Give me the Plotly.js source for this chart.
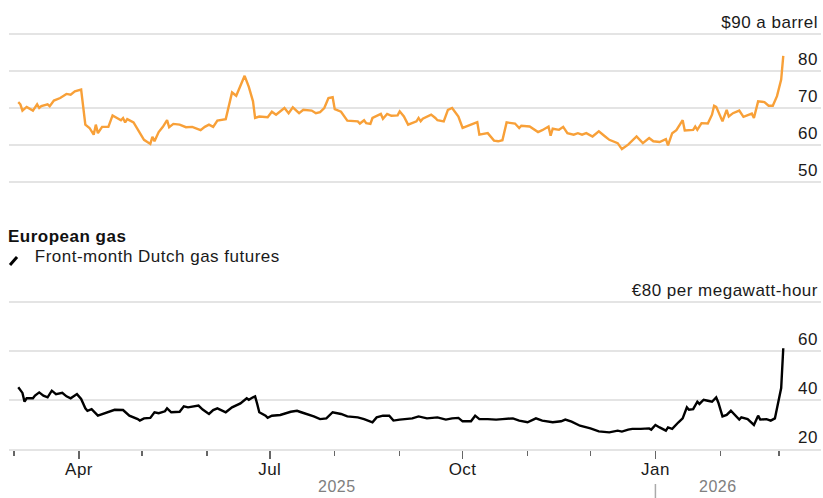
<!DOCTYPE html>
<html>
<head>
<meta charset="utf-8">
<script src="https://cdn.plot.ly/plotly-3.0.1.min.js"></script>
<style>
  html, body { margin: 0; padding: 0; background: #fff; }
  #chart { width: 823px; height: 498px; }
  #chart text { letter-spacing: 0.5px; }
</style>
</head>
<body>
<div id="chart"></div>
<script>
// Brent crude, $ a barrel
const oilDates = [
  "2025-03-03","2025-03-04","2025-03-05","2025-03-07","2025-03-10","2025-03-12","2025-03-13","2025-03-14",
  "2025-03-17","2025-03-18","2025-03-20","2025-03-23","2025-03-26","2025-03-28","2025-03-30","2025-04-02",
  "2025-04-04","2025-04-06","2025-04-08","2025-04-09","2025-04-10","2025-04-12","2025-04-15","2025-04-17",
  "2025-04-21","2025-04-22","2025-04-23","2025-04-24","2025-04-27","2025-04-29","2025-05-02","2025-05-05",
  "2025-05-06","2025-05-07","2025-05-09","2025-05-11","2025-05-13","2025-05-14","2025-05-16","2025-05-19",
  "2025-05-22","2025-05-25","2025-05-29","2025-05-31","2025-06-02","2025-06-04","2025-06-06","2025-06-10",
  "2025-06-11","2025-06-13","2025-06-15","2025-06-17","2025-06-19","2025-06-21","2025-06-23","2025-06-24",
  "2025-06-26","2025-06-30","2025-07-02","2025-07-04","2025-07-08","2025-07-10","2025-07-12","2025-07-15",
  "2025-07-17","2025-07-21","2025-07-23","2025-07-25","2025-07-27","2025-07-29","2025-07-31","2025-08-01",
  "2025-08-04","2025-08-07","2025-08-12","2025-08-13","2025-08-15","2025-08-16","2025-08-18","2025-08-19",
  "2025-08-23","2025-08-24","2025-08-26","2025-08-28","2025-08-31","2025-09-01","2025-09-03","2025-09-05",
  "2025-09-09","2025-09-10","2025-09-11","2025-09-12","2025-09-16","2025-09-18","2025-09-19","2025-09-22",
  "2025-09-24","2025-09-26","2025-09-29","2025-10-01","2025-10-05","2025-10-08","2025-10-09","2025-10-13",
  "2025-10-16","2025-10-18","2025-10-20","2025-10-22","2025-10-26","2025-10-28","2025-10-29","2025-11-02",
  "2025-11-06","2025-11-08","2025-11-11","2025-11-12","2025-11-13","2025-11-16","2025-11-18","2025-11-20",
  "2025-11-23","2025-11-25","2025-11-27","2025-11-29","2025-12-02","2025-12-05","2025-12-08","2025-12-10",
  "2025-12-14","2025-12-16","2025-12-19","2025-12-23","2025-12-26","2025-12-29","2025-12-31","2026-01-03",
  "2026-01-06","2026-01-07","2026-01-09","2026-01-11","2026-01-14","2026-01-15","2026-01-19","2026-01-20",
  "2026-01-21","2026-01-23","2026-01-26","2026-01-28","2026-01-29","2026-01-30","2026-02-02","2026-02-04",
  "2026-02-05","2026-02-07","2026-02-10","2026-02-12","2026-02-16","2026-02-17","2026-02-19","2026-02-22",
  "2026-02-24","2026-02-26","2026-02-28","2026-03-02","2026-03-03"
];
const oilPrice = [
  71.6,71.0,69.3,70.3,69.3,71.0,70.0,70.5,
  71.0,70.5,72.0,72.7,73.8,73.6,74.5,75.0,
  65.5,64.6,62.8,65.5,63.2,64.9,64.9,68.0,
  66.7,67.3,66.1,67.0,66.1,64.1,61.4,60.3,
  62.2,61.0,63.5,64.9,66.7,64.8,65.7,65.5,
  64.8,64.9,64.0,64.9,65.5,64.9,66.6,67.0,
  69.6,74.2,73.3,76.0,78.7,75.7,71.8,67.3,
  67.7,67.5,69.0,68.2,70.0,68.6,70.2,68.6,
  69.5,69.3,68.6,68.9,70.0,72.7,72.9,69.7,
  69.0,66.6,66.4,65.8,66.7,65.9,65.7,67.3,
  68.4,67.1,68.4,67.9,68.0,69.1,67.7,65.5,
  66.4,67.3,66.4,67.1,68.2,67.3,66.7,66.4,
  69.5,70.0,67.7,64.6,65.5,66.2,62.8,63.2,
  61.2,61.0,61.3,66.1,65.8,64.6,65.2,65.0,
  63.5,64.0,65.0,62.5,64.4,64.1,64.9,63.2,
  62.8,63.2,62.8,63.2,62.3,63.7,62.3,61.4,
  60.5,58.9,60.1,62.3,60.5,61.9,61.0,60.8,
  61.6,59.9,63.2,64.0,66.7,63.9,64.1,65.0,
  64.1,65.9,65.8,68.2,70.6,70.3,66.4,69.5,
  67.7,68.6,69.3,67.6,68.5,67.3,71.8,71.6,
  70.6,70.6,73.2,77.7,84.1
];

// Front-month Dutch gas futures, € per megawatt-hour
const gasDates = [
  "2025-03-03","2025-03-05","2025-03-06","2025-03-07","2025-03-10","2025-03-11","2025-03-13","2025-03-15",
  "2025-03-17","2025-03-19","2025-03-20","2025-03-21","2025-03-24","2025-03-26","2025-03-28","2025-03-31",
  "2025-04-02","2025-04-04","2025-04-05","2025-04-07","2025-04-10","2025-04-11","2025-04-14","2025-04-18",
  "2025-04-22","2025-04-25","2025-04-29","2025-04-30","2025-05-02","2025-05-05","2025-05-07","2025-05-09",
  "2025-05-12","2025-05-13","2025-05-15","2025-05-19","2025-05-21","2025-05-23","2025-05-28","2025-05-30",
  "2025-06-02","2025-06-04","2025-06-06","2025-06-10","2025-06-13","2025-06-17","2025-06-20","2025-06-21",
  "2025-06-23","2025-06-24","2025-06-25","2025-06-26","2025-06-29","2025-06-30","2025-07-02","2025-07-06",
  "2025-07-11","2025-07-14","2025-07-16","2025-07-19","2025-07-22","2025-07-25","2025-07-28","2025-07-31",
  "2025-08-04","2025-08-07","2025-08-12","2025-08-15","2025-08-19","2025-08-21","2025-08-24","2025-08-27",
  "2025-08-29","2025-09-01","2025-09-04","2025-09-07","2025-09-10","2025-09-14","2025-09-19","2025-09-23",
  "2025-09-26","2025-09-29","2025-10-01","2025-10-05","2025-10-07","2025-10-09","2025-10-13","2025-10-17",
  "2025-10-20","2025-10-25","2025-10-28","2025-11-01","2025-11-05","2025-11-08","2025-11-13","2025-11-17",
  "2025-11-19","2025-11-22","2025-11-26","2025-12-01","2025-12-05","2025-12-08","2025-12-10","2025-12-14",
  "2025-12-16","2025-12-19","2025-12-21","2025-12-25","2025-12-29","2025-12-30","2026-01-01","2026-01-03",
  "2026-01-06","2026-01-07","2026-01-09","2026-01-12","2026-01-14","2026-01-16","2026-01-17","2026-01-19",
  "2026-01-21","2026-01-22","2026-01-24","2026-01-26","2026-01-28","2026-01-30","2026-01-31","2026-02-02",
  "2026-02-04","2026-02-06","2026-02-08","2026-02-10","2026-02-11","2026-02-14","2026-02-17","2026-02-19",
  "2026-02-20","2026-02-23","2026-02-25","2026-02-27","2026-03-02","2026-03-03"
];
const gasPrice = [
  45.2,42.9,39.3,40.7,40.7,41.8,43.1,41.8,
  41.1,43.8,43.1,42.4,42.9,41.5,40.7,42.4,
  40.4,36.6,35.6,36.3,33.6,33.9,35.0,36.0,
  35.9,33.6,32.2,31.6,32.5,32.7,35.0,34.6,
  35.4,36.6,35.0,35.2,37.4,37.0,37.7,36.1,
  34.3,35.9,36.6,35.0,37.0,38.6,40.7,40.1,
  41.1,41.5,38.4,35.0,33.6,32.7,33.6,33.9,
  35.2,35.6,35.0,34.3,33.3,32.2,32.5,35.0,
  34.3,33.3,32.9,32.2,30.9,32.9,33.6,33.6,
  31.6,32.0,32.2,32.5,33.3,32.5,32.9,32.0,
  32.5,32.7,31.3,31.3,33.6,32.2,32.2,32.0,
  32.2,32.5,31.6,30.9,32.5,31.6,30.9,31.3,
  32.0,31.2,29.5,28.4,27.2,27.1,26.8,27.5,
  27.1,27.9,28.2,28.2,28.4,27.9,29.8,28.8,
  27.5,28.8,28.2,30.9,32.5,37.0,36.0,36.3,
  39.3,38.4,40.1,39.7,39.3,41.1,39.0,33.3,
  33.9,35.6,33.9,32.0,32.9,32.2,29.8,33.6,
  32.0,32.2,31.6,32.5,44.9,61.1
];

const oilTicks = [50, 60, 70, 80, 90];
const oilTickText = ["50", "60", "70", "80", "$90 a barrel"];
const gasTicks = [20, 40, 60, 80];
const gasTickText = ["20", "40", "60", "€80 per megawatt-hour"];
const monthTicks = ["2025-04-01", "2025-07-01", "2025-10-01", "2026-01-01"];
const monthLabels = ["Apr", "Jul", "Oct", "Jan"];

const FONT = "Liberation Sans, Arial, sans-serif";
const GRID = "#e4e4e4";
const TXT = { family: FONT, size: 17, color: "#1a1a1a" };

const oil = {
  x: oilDates, y: oilPrice, type: "scatter", mode: "lines",
  xaxis: "x2", yaxis: "y2",
  line: { color: "#f8a038", width: 2.4 },
  hoverinfo: "skip", showlegend: false,
};

const gas = {
  x: gasDates, y: gasPrice, type: "scatter", mode: "lines",
  xaxis: "x", yaxis: "y",
  line: { color: "#000000", width: 2.4 },
  hoverinfo: "skip", showlegend: false,
};

const xRange = ["2025-02-26 14:00", "2026-03-21"];

const layout = {
  width: 823, height: 498,
  margin: { l: 9, r: 2, t: 30, b: 49 },
  paper_bgcolor: "#fff", plot_bgcolor: "#fff",
  font: TXT,
  showlegend: false,
  xaxis: {
    type: "date", range: xRange, anchor: "y",
    tickmode: "array", tickvals: monthTicks, ticktext: monthLabels,
    ticks: "outside", ticklen: 8, tickwidth: 1.5, tickcolor: "#666",
    ticklabelstandoff: -4,
    showgrid: false, zeroline: false,
    showline: true, linecolor: GRID, linewidth: 2,
    tickfont: TXT,
    minor: { dtick: "M1", tick0: "2025-01-01", ticks: "outside", ticklen: 5, tickwidth: 1.5, tickcolor: "#666", showgrid: false },
  },
  yaxis: {
    domain: [0, 0.3567], range: [20, 81], side: "right",
    tickmode: "array", tickvals: gasTicks, ticktext: gasTickText,
    ticklabelposition: "inside top", ticklabeloverflow: "allow",
    showgrid: true, gridcolor: GRID, gridwidth: 2,
    zeroline: false, ticks: "", showline: false,
    tickfont: TXT,
  },
  xaxis2: {
    type: "date", range: xRange, anchor: "y2", matches: "x",
    showticklabels: false, ticks: "", showgrid: false, zeroline: false, showline: false,
  },
  yaxis2: {
    domain: [0.6284, 0.9993], range: [49, 91], side: "right", anchor: "x2",
    tickmode: "array", tickvals: oilTicks, ticktext: oilTickText,
    ticklabelposition: "inside top", ticklabeloverflow: "allow",
    showgrid: true, gridcolor: GRID, gridwidth: 2,
    zeroline: false, ticks: "", showline: false,
    tickfont: TXT,
  },
  annotations: [
    { text: "<b>European gas</b>", xref: "paper", yref: "paper", x: 0, y: 0.506,
      xanchor: "left", yanchor: "middle", showarrow: false,
      font: { family: FONT, size: 17, color: "#111" } },
    { text: "Front-month Dutch gas futures", xref: "paper", yref: "paper", x: 0.038, y: 0.459,
      xanchor: "left", yanchor: "middle", showarrow: false, font: TXT },
    { text: "2025", xref: "x", yref: "paper", x: "2025-08-02", y: -0.1145,
      xanchor: "center", yanchor: "bottom", showarrow: false,
      font: { family: FONT, size: 16, color: "#808080" } },
    { text: "2026", xref: "x", yref: "paper", x: "2026-01-31", y: -0.1145,
      xanchor: "center", yanchor: "bottom", showarrow: false,
      font: { family: FONT, size: 16, color: "#808080" } },
  ],
  shapes: [
    // legend key: short slanted stroke
    { type: "line", xref: "paper", yref: "paper", x0: 0.0012, y0: 0.4391, x1: 0.0099, y1: 0.4582,
      line: { color: "#000", width: 3 } },
    // year divider at Jan 1
    { type: "line", xref: "x", yref: "paper", x0: "2026-01-01", x1: "2026-01-01", y0: -0.0835, y1: -0.117,
      line: { color: "#aaa", width: 1.5 } },
  ],
};

Plotly.newPlot("chart", [gas, oil], layout, { displayModeBar: false, staticPlot: true });
</script>
</body>
</html>
